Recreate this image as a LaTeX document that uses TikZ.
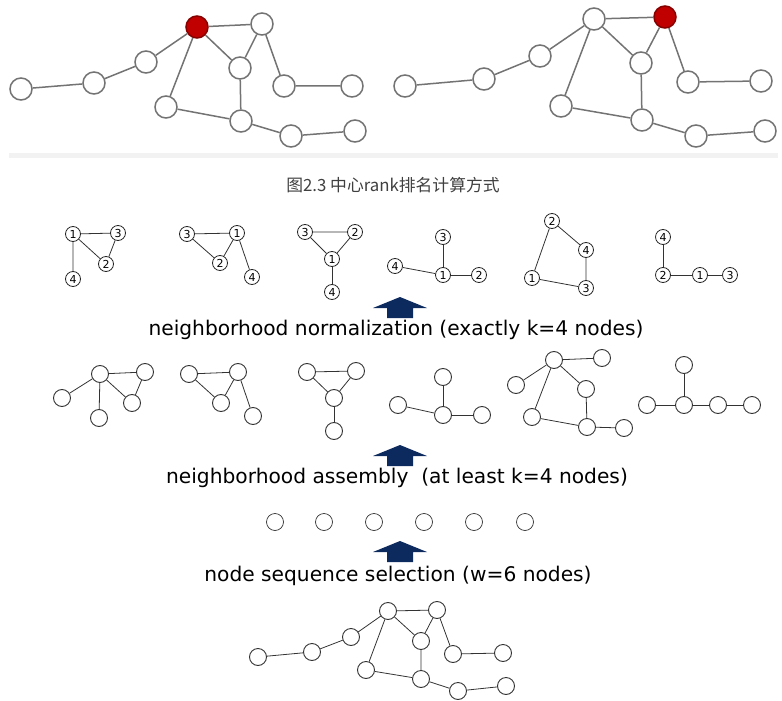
\documentclass[tikz,border=0pt]{standalone}
\usepackage{fontspec}
\newfontfamily\verdfont{DejaVu Sans}
\newfontfamily\cjkfont{Noto Sans CJK SC}
\usetikzlibrary{shapes.geometric}
\definecolor{navy}{RGB}{12,42,94}
\definecolor{redhub}{RGB}{192,0,0}
\tikzstyle{big} = [circle, minimum size=22pt, inner sep=0pt, draw=black!55, line width=1.5pt, fill=white]
\tikzstyle{hub} = [big, fill=redhub, draw=redhub!70!black]
\tikzstyle{blank} = [circle, minimum size=17pt, inner sep=0pt, draw=black!80, line width=0.9pt, fill=white]
\tikzstyle{num} = [circle, minimum size=15pt, inner sep=0pt, draw=black!85, line width=0.8pt, font=\verdfont\fontsize{11}{11}\selectfont]
\tikzstyle{biglink} = [draw=black!55, line width=1.5pt]
\tikzstyle{link} = [draw=black!80, line width=0.8pt]
\tikzstyle{stagetext} = [anchor=base, inner sep=0pt, font=\verdfont\fontsize{20.2}{20}\selectfont]
\tikzset{uparrow/.pic={\fill[navy] (0,0) -- (27,11) -- (13,11) -- (13,21) -- (-13,21) -- (-13,11) -- (-27,11) -- cycle;}}

\begin{document}
\begin{tikzpicture}[x=1pt, y=-1pt]
  \useasboundingbox (0,0) rectangle (782,701);
  \fill[black!5] (9,153) rectangle (778,158);

  % top left graph, hub in the middle
  \node (la) [hub] at (197,27) {};
  \node (lb) [big] at (262,24) {};
  \node (lc) [big] at (146,62) {};
  \node (ld) [big] at (94,83) {};
  \node (le) [big] at (21,89) {};
  \node (lf) [big] at (240,68) {};
  \node (lg) [big] at (284,86) {};
  \node (lh) [big] at (352,86) {};
  \node (li) [big] at (166,107) {};
  \node (lj) [big] at (241,121) {};
  \node (lk) [big] at (291,136) {};
  \node (ll) [big] at (355,131) {};
  \draw [biglink] (le) -- (ld) -- (lc) -- (la) -- (lb) -- (lg) -- (lh);
  \draw [biglink] (la) -- (lf) -- (lj) -- (lk) -- (ll);
  \draw [biglink] (la) -- (li) -- (lj);
  \draw [biglink] (lb) -- (lf);

  % top right graph, hub moved
  \node (ra) [big] at (594,19) {};
  \node (rb) [hub] at (665,17) {};
  \node (rc) [big] at (540,56) {};
  \node (rd) [big] at (484,79) {};
  \node (re) [big] at (405,86) {};
  \node (rf) [big] at (641,63) {};
  \node (rg) [big] at (688,82) {};
  \node (rh) [big] at (761,81) {};
  \node (ri) [big] at (561,106) {};
  \node (rj) [big] at (642,120) {};
  \node (rk) [big] at (696,136) {};
  \node (rl) [big] at (765,131) {};
  \draw [biglink] (re) -- (rd) -- (rc) -- (ra) -- (rb) -- (rg) -- (rh);
  \draw [biglink] (ra) -- (rf) -- (rj) -- (rk) -- (rl);
  \draw [biglink] (ra) -- (ri) -- (rj);
  \draw [biglink] (rb) -- (rf);

  \node (cap) [anchor=base, inner sep=0pt, text=black!75, font=\cjkfont\fontsize{16.8}{17}\selectfont] at (393,191) {图2.3 中心rank排名计算方式};

  % normalized neighborhoods
  \node (n11) [num] at (73,234) {1};
  \node (n13) [num] at (118,233) {3};
  \node (n12) [num] at (106,264) {2};
  \node (n14) [num] at (73,279) {4};
  \draw [link] (n11) -- (n13) -- (n12) -- (n11) -- (n14);

  \node (n23) [num] at (187,234) {3};
  \node (n21) [num] at (237,233) {1};
  \node (n22) [num] at (220,263) {2};
  \node (n24) [num] at (252,277) {4};
  \draw [link] (n23) -- (n21) -- (n22) -- (n23);
  \draw [link] (n21) -- (n24);

  \node (n33) [num] at (305,232) {3};
  \node (n32) [num] at (355,232) {2};
  \node (n31) [num] at (332,259) {1};
  \node (n34) [num] at (332,292) {4};
  \draw [link] (n33) -- (n32) -- (n31) -- (n33);
  \draw [link] (n31) -- (n34);

  \node (n43) [num] at (443,237) {3};
  \node (n44) [num] at (395,266) {4};
  \node (n41) [num] at (443,275) {1};
  \node (n42) [num] at (479,275) {2};
  \draw [link] (n43) -- (n41) -- (n42);
  \draw [link] (n44) -- (n41);

  \node (n52) [num] at (552,221) {2};
  \node (n54) [num] at (586,250) {4};
  \node (n51) [num] at (532,278) {1};
  \node (n53) [num] at (586,288) {3};
  \draw [link] (n52) -- (n54) -- (n53) -- (n51) -- (n52);

  \node (n64) [num] at (663,237) {4};
  \node (n62) [num] at (663,275) {2};
  \node (n61) [num] at (700,275) {1};
  \node (n63) [num] at (730,275) {3};
  \draw [link] (n64) -- (n62) -- (n61) -- (n63);

  \pic at (400,297) {uparrow};
  \node (t1) [stagetext] at (396,335) {neighborhood normalization (exactly k=4 nodes)};

  % assembled neighborhoods
  \node (m1a) [blank] at (100,374) {};
  \node (m1b) [blank] at (145,372) {};
  \node (m1c) [blank] at (62,398) {};
  \node (m1d) [blank] at (132,403) {};
  \node (m1e) [blank] at (99,418) {};
  \draw [link] (m1c) -- (m1a) -- (m1b) -- (m1d) -- (m1a) -- (m1e);

  \node (m2a) [blank] at (189,374) {};
  \node (m2b) [blank] at (238,372) {};
  \node (m2c) [blank] at (221,403) {};
  \node (m2d) [blank] at (253,416) {};
  \draw [link] (m2a) -- (m2b) -- (m2c) -- (m2a);
  \draw [link] (m2b) -- (m2d);

  \node (m3a) [blank] at (307,372) {};
  \node (m3b) [blank] at (356,371) {};
  \node (m3c) [blank] at (334,398) {};
  \node (m3d) [blank] at (334,431) {};
  \draw [link] (m3a) -- (m3b) -- (m3c) -- (m3a);
  \draw [link] (m3c) -- (m3d);

  \node (m4a) [blank] at (443,377) {};
  \node (m4b) [blank] at (398,405) {};
  \node (m4c) [blank] at (443,415) {};
  \node (m4d) [blank] at (482,415) {};
  \draw [link] (m4a) -- (m4c) -- (m4d);
  \draw [link] (m4b) -- (m4c);

  \node (m5a) [blank] at (554,360) {};
  \node (m5b) [blank] at (602,358) {};
  \node (m5c) [blank] at (516,385) {};
  \node (m5d) [blank] at (586,389) {};
  \node (m5e) [blank] at (532,417) {};
  \node (m5f) [blank] at (587,427) {};
  \node (m5g) [blank] at (624,428) {};
  \draw [link] (m5b) -- (m5a) -- (m5c);
  \draw [link] (m5a) -- (m5d) -- (m5f) -- (m5g);
  \draw [link] (m5a) -- (m5e) -- (m5f);

  \node (m6a) [blank] at (684,365) {};
  \node (m6b) [blank] at (647,405) {};
  \node (m6c) [blank] at (684,405) {};
  \node (m6d) [blank] at (718,405) {};
  \node (m6e) [blank] at (752,405) {};
  \draw [link] (m6a) -- (m6c);
  \draw [link] (m6b) -- (m6c) -- (m6d) -- (m6e);

  \pic at (400,445) {uparrow};
  \node (t2) [stagetext] at (397,483) {neighborhood assembly\ \ (at least k=4 nodes)};

  % selected sequence
  \node (s1) [blank, line width=0.7pt] at (275,522) {};
  \node (s2) [blank, line width=0.7pt] at (324,522) {};
  \node (s3) [blank, line width=0.7pt] at (374,522) {};
  \node (s4) [blank, line width=0.7pt] at (424,522) {};
  \node (s5) [blank, line width=0.7pt] at (474,522) {};
  \node (s6) [blank, line width=0.7pt] at (525,522) {};

  \pic at (400,541) {uparrow};
  \node (t3) [stagetext] at (398,581) {node sequence selection (w=6 nodes)};

  % input graph
  \node (ba) [blank] at (388,611) {};
  \node (bb) [blank] at (437,610) {};
  \node (bc) [blank] at (351,637) {};
  \node (bd) [blank] at (312,652) {};
  \node (be) [blank] at (258,657) {};
  \node (bf) [blank] at (421,641) {};
  \node (bg) [blank] at (453,654) {};
  \node (bh) [blank] at (503,653) {};
  \node (bi) [blank] at (366,670) {};
  \node (bj) [blank] at (421,679) {};
  \node (bk) [blank] at (458,691) {};
  \node (bl) [blank] at (506,686) {};
  \draw [link] (be) -- (bd) -- (bc) -- (ba) -- (bb) -- (bg) -- (bh);
  \draw [link] (ba) -- (bf) -- (bj) -- (bk) -- (bl);
  \draw [link] (ba) -- (bi) -- (bj);
  \draw [link] (bb) -- (bf);
\end{tikzpicture}
\end{document}
